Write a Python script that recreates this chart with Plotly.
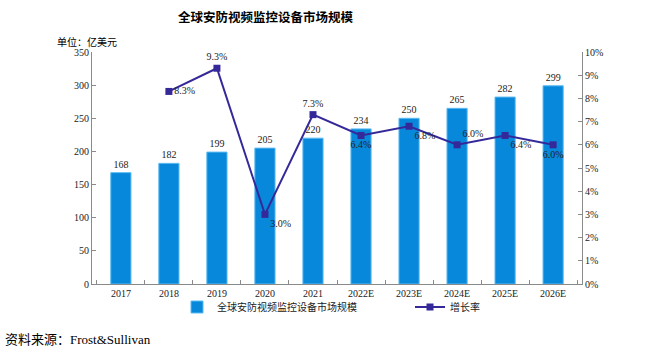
import plotly.graph_objects as go

years = ["2017", "2018", "2019", "2020", "2021", "2022E", "2023E", "2024E", "2025E", "2026E"]
market = [168, 182, 199, 205, 220, 234, 250, 265, 282, 299]
growth = [None, 0.083, 0.093, 0.030, 0.073, 0.064, 0.068, 0.060, 0.064, 0.060]
growth_pos = ["middle right", "middle right", "top center", "bottom right", "top center",
              "bottom center", "bottom right", "top right", "bottom right", "bottom center"]

serif = "Liberation Serif, Noto Sans CJK SC"
bar_color = "#0788DB"
line_color = "#35299A"

fig = go.Figure()
fig.add_trace(go.Bar(
    x=years, y=market, name="全球安防视频监控设备市场规模",
    marker=dict(color=bar_color, line=dict(color="#5DBBF2", width=1)),
    width=0.42,
    text=[str(v) for v in market], textposition="outside",
    textfont=dict(family=serif, size=10, color="#222"),
    cliponaxis=False, legend="legend", showlegend=True,
))
fig.add_trace(go.Scatter(
    x=years, y=growth, name="增长率", yaxis="y2", mode="lines+markers+text",
    line=dict(color=line_color, width=2),
    marker=dict(symbol="square", size=7, color=line_color),
    text=["" if g is None else f"{g*100:.1f}%" for g in growth],
    textposition=growth_pos,
    textfont=dict(family=serif, size=10, color="#222"),
    cliponaxis=False, legend="legend2", showlegend=True,
))

axis_common = dict(showline=True, linecolor="#8a8a8a", linewidth=1, ticks="inside",
                   ticklen=4, tickcolor="#8a8a8a", showgrid=False, zeroline=False,
                   tickfont=dict(family=serif, size=10, color="#222"))

W, H = 664, 346
l, r, t, b = 92, 82, 52, 62
pw, ph = W - l - r, H - t - b

fig.update_layout(
    width=W, height=H,
    margin=dict(l=l, r=r, t=t, b=b),
    paper_bgcolor="white", plot_bgcolor="white",
    showlegend=True,
    xaxis=dict(**axis_common, type="category", tickson="boundaries"),
    yaxis=dict(**axis_common, range=[0, 350], dtick=50),
    yaxis2=dict(**axis_common, range=[0, 0.1], dtick=0.01, tickformat=".0%",
                overlaying="y", side="right"),
    legend=dict(orientation="h", x=(177 - l) / pw, xref="paper", y=-(307 - 284) / ph,
                yanchor="middle", xanchor="left",
                font=dict(family=serif, size=10, color="#222"), bgcolor="rgba(0,0,0,0)"),
    legend2=dict(orientation="h", x=(410 - l) / pw, xref="paper", y=-(307 - 284) / ph,
                 yanchor="middle", xanchor="left",
                 font=dict(family=serif, size=10, color="#222"), bgcolor="rgba(0,0,0,0)"),
)

def px_ann(text, px, py, size, family, xanchor="left"):
    return dict(text=text, showarrow=False, xref="paper", yref="paper",
                x=(px - l) / pw, y=(H - b - py) / ph, xanchor=xanchor, yanchor="middle",
                font=dict(family=family, size=size, color="#000"))

fig.update_layout(annotations=[
    px_ann("<b>全球安防视频监控设备市场规模</b>", 266, 17, 12.5, "Noto Sans CJK SC", "center"),
    px_ann("单位：亿美元", 55, 42, 10, serif),
    px_ann("资料来源：Frost&Sullivan", 3, 339, 13, serif),
])

fig.write_html("out.html")
